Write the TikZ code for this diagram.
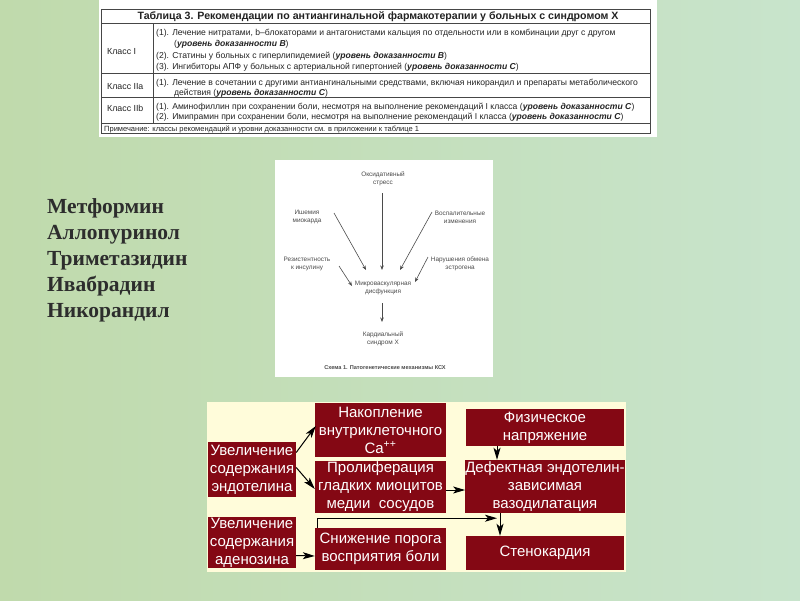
\documentclass[tikz,border=0pt]{standalone}
\usepackage{fontspec}
\setmainfont{Liberation Sans}
\newfontfamily\serifbold{Liberation Serif}
\usetikzlibrary{arrows.meta,calc}
\definecolor{bgL}{RGB}{192,218,172}
\definecolor{bgR}{RGB}{200,228,204}
\definecolor{maroon}{RGB}{132,8,20}
\definecolor{cream}{RGB}{255,252,218}
\definecolor{tabtxt}{RGB}{35,35,35}
\definecolor{tabline}{RGB}{70,70,70}
\definecolor{drugtxt}{RGB}{45,45,45}
\definecolor{schgray}{RGB}{75,75,75}
\begin{document}
\begin{tikzpicture}[x=1pt,y=-1pt,
  tx/.style={anchor=base west,inner sep=0pt,text=tabtxt,font=\fontsize{8.6}{10}\selectfont},
  cls/.style={anchor=base west,inner sep=0pt,text=tabtxt,font=\fontsize{8.8}{10}\selectfont},
  tline/.style={draw=tabline,line width=0.8pt},
  drug/.style={anchor=base west,inner sep=0pt,text=drugtxt,font=\serifbold\bfseries\fontsize{21.5}{26}\selectfont},
  sch/.style={align=center,inner sep=0pt,text=schgray,font=\fontsize{6.4}{8}\selectfont},
  sarr/.style={draw=schgray,line width=0.6pt,-{Stealth[length=4.5pt,width=3.5pt]}},
  rbox/.style={fill=maroon,text=white,align=center,inner sep=0pt,font=\fontsize{15}{18}\selectfont},
  barr/.style={draw=black,line width=1pt,-{Stealth[length=12pt,width=7pt,inset=3pt]}}
]
\useasboundingbox (0,0) rectangle (800,600);
\shade[left color=bgL,right color=bgR] (0,0) rectangle (800,600);

% ---------- table ----------
\fill[white] (99,0) rectangle (657,137);
\draw[tline] (101,9) rectangle (650,133);
\draw[tline] (101,23) -- (650,23);
\draw[tline] (101,73) -- (650,73);
\draw[tline] (101,97) -- (650,97);
\draw[tline] (101,123) -- (650,123);
\draw[tline] (153,23) -- (153,123);
\node[anchor=base,inner sep=0pt,text=tabtxt,font=\bfseries\fontsize{10.6}{12}\selectfont] (title) at (378,19)
  {Таблица 3. Рекомендации по антиангинальной фармакотерапии у больных с синдромом X};
\node[cls] (c1) at (107,54) {Класс I};
\node[cls] (c2) at (107,89) {Класс IIa};
\node[cls] (c3) at (107,111) {Класс IIb};
\node[tx] (r1a) at (156,35) {(1). Лечение нитратами, b–блокаторами и антагонистами кальция по отдельности или в комбинации друг с другом};
\node[tx] (r1b) at (174,46.5) {(\textbf{\textit{уровень доказанности B}})};
\node[tx] (r1c) at (156,58) {(2). Статины у больных с гиперлипидемией (\textbf{\textit{уровень доказанности B}})};
\node[tx] (r1d) at (156,69) {(3). Ингибиторы АПФ у больных с артериальной гипертонией (\textbf{\textit{уровень доказанности C}})};
\node[tx] (r2a) at (156,85) {(1). Лечение в сочетании с другими антиангинальными средствами, включая никорандил и препараты метаболического};
\node[tx] (r2b) at (174,95) {действия (\textbf{\textit{уровень доказанности C}})};
\node[tx] (r3a) at (156,109) {(1). Аминофиллин при сохранении боли, несмотря на выполнение рекомендаций I класса (\textbf{\textit{уровень доказанности C}})};
\node[tx] (r3b) at (156,119.5) {(2). Имипрамин при сохранении боли, несмотря на выполнение рекомендаций I класса (\textbf{\textit{уровень доказанности C}})};
\node[tx,font=\fontsize{7.5}{9}\selectfont] (note) at (104,131) {Примечание: классы рекомендаций и уровни доказанности см. в приложении к таблице 1};

% ---------- drugs ----------
\node[drug] (d1) at (47,213) {Метформин};
\node[drug] (d2) at (47,239) {Аллопуринол};
\node[drug] (d3) at (47,265) {Триметазидин};
\node[drug] (d4) at (47,291) {Ивабрадин};
\node[drug] (d5) at (47,317) {Никорандил};

% ---------- scheme ----------
\fill[white] (275,160) rectangle (493,377);
\node[sch] (ox) at (383,179) {Оксидативный\\стресс};
\node[sch] (isch) at (307,217) {Ишемия\\миокарда};
\node[sch] (infl) at (460,217) {Воспалительные\\изменения};
\node[sch] (resist) at (307,264) {Резистентность\\к инсулину};
\node[sch] (estr) at (460,264) {Нарушения обмена\\эстрогена};
\node[sch] (micro) at (383,288) {Микроваскулярная\\дисфункция};
\node[sch] (card) at (383,339) {Кардиальный\\синдром X};
\node[sch,font=\bfseries\fontsize{5.6}{7}\selectfont] (cap) at (385,368) {Схема 1. Патогенетические механизмы КСХ};
\draw[sarr] ($(ox)+(-1,14)$) -- ($(micro)+(-1,-18)$);
\draw[sarr] ($(isch)+(27,-4)$) -- ($(micro)+(-17,-18)$);
\draw[sarr] ($(infl)+(-28,-5)$) -- ($(micro)+(17,-18)$);
\draw[sarr] ($(resist)+(32,2)$) -- ($(micro)+(-31,-2)$);
\draw[sarr] ($(estr)+(-32,-7)$) -- ($(micro)+(32,-6)$);
\draw[sarr] ($(micro)+(-1,15)$) -- ($(card)+(-1,-17)$);

% ---------- flow ----------
\fill[cream] (207,402) rectangle (626,572);
\node[rbox,minimum width=88pt,minimum height=55pt] (endo) at (252,469.5) {Увеличение\\содержания\\эндотелина};
\node[rbox,minimum width=88pt,minimum height=51pt] (aden) at (252,542.5) {Увеличение\\содержания\\аденозина};
\node[rbox,minimum width=131pt,minimum height=54pt] (ca) at (380.5,430) {Накопление\\внутриклеточного\\Ca\textsuperscript{++}};
\node[rbox,minimum width=131pt,minimum height=52pt] (prolif) at (380.5,487) {Пролиферация\\гладких миоцитов\\медии\ \ сосудов};
\node[rbox,minimum width=131pt,minimum height=42pt] (pain) at (380.5,549) {Снижение порога\\восприятия боли};
\node[rbox,minimum width=158pt,minimum height=37pt] (phys) at (545,427.5) {Физическое\\напряжение};
\node[rbox,minimum width=158pt,minimum height=53pt] (defect) at (545,486.5) {Дефектная эндотелин-\\зависимая\\вазодилатация};
\node[rbox,minimum width=158pt,minimum height=34pt] (angina) at (545,553) {Стенокардия};
\draw[barr] ($(endo.east)+(0,-17)$) -- ($(ca.west)+(1,-4)$);
\draw[barr] ($(endo.east)+(0,-2)$) -- ($(prolif.west)+(0,2)$);
\draw[barr] ($(prolif.east)+(0,3)$) -- ($(defect.west)+(0,3.5)$);
\draw[barr] ($(phys.south)+(-48,0)$) -- ($(defect.north)+(-48,0)$);
\draw[barr] ($(defect.south)+(-45,0)$) -- ($(angina.north)+(-45,0)$);
\draw[barr] ($(pain.north west)+(3,0)$) |- ($(defect.south)+(-48,5)$);
\draw[barr] ($(aden.east)+(0,13)$) -- ($(pain.west)+(0,7)$);
\end{tikzpicture}
\end{document}
